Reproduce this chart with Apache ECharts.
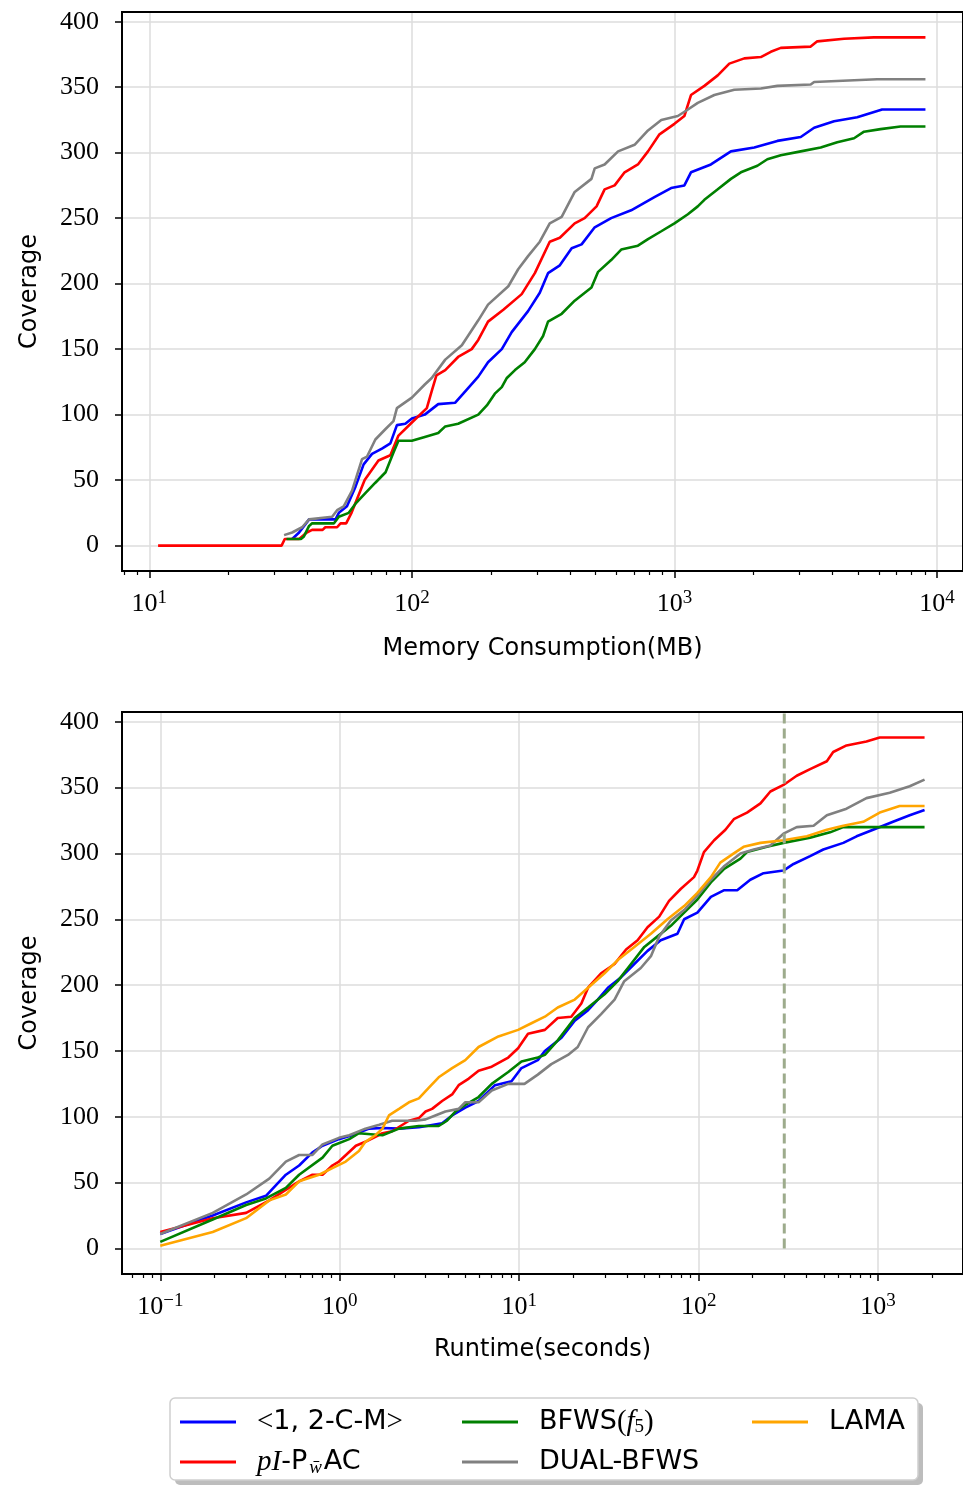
<!DOCTYPE html>
<html>
<head>
<meta charset="utf-8">
<script src="https://cdn.jsdelivr.net/npm/echarts@6/dist/echarts.min.js"></script>
<style>
  html, body { margin: 0; padding: 0; background: #fff; }
  #chart { width: 963px; height: 1488px; }
</style>
</head>
<body>
<div id="chart"></div>
<script>
// memory consumption (MB) vs coverage
const memBlue = [[35, 5], [37.2, 10], [40.6, 20], [51.2, 20], [52.7, 25], [56.6, 30], [61, 45], [65.5, 62], [70.5, 70], [76.9, 74], [82.8, 78], [87.7, 92], [94.4, 93], [100, 97], [112, 100], [126, 108], [146, 109], [160, 118], [179, 129], [195, 140], [220, 150], [240, 163], [277, 179], [307, 193], [330, 208], [366, 214], [406, 227], [443, 230], [497, 243], [574, 250], [684, 256], [839, 266], [971, 273], [1091, 275], [1156, 285], [1377, 291], [1641, 301], [2014, 304], [2466, 309], [3027, 312], [3404, 319], [4055, 324], [4966, 327], [6180, 333], [9036, 333]]
const memRed = [[10.8, 0], [31.9, 0], [32.8, 5], [37.2, 5], [39.8, 10], [41.7, 12], [45.7, 12], [46.8, 14], [51.9, 14], [53.5, 17], [56.2, 17], [58.9, 25], [66.1, 50], [74.6, 65], [82.8, 69], [88.9, 84], [100, 94], [114, 105], [119, 118], [124, 130], [134, 134], [150, 144], [169, 150], [179, 157], [195, 171], [223, 180], [262, 192], [294, 208], [335, 232], [366, 235], [417, 246], [455, 250], [505, 259], [542, 272], [592, 275], [646, 285], [726, 291], [793, 301], [877, 314], [1000, 322], [1091, 328], [1156, 344], [1300, 351], [1462, 359], [1618, 368], [1845, 372], [2133, 373], [2328, 377], [2541, 380], [3304, 381], [3499, 385], [4426, 387], [5741, 388], [9036, 388]]
const memGreen = [[33.3, 5], [37.8, 5], [38.8, 7], [40.6, 15], [41.7, 17], [50.5, 17], [52.7, 22], [57.5, 25], [61, 32], [66.5, 40], [72.6, 48], [79.4, 56], [85.1, 71], [88.9, 80], [100, 80], [112, 83], [126, 86], [134, 91], [150, 93], [179, 100], [193, 107], [207, 116], [220, 121], [230, 128], [247, 134], [269, 140], [294, 150], [316, 160], [330, 171], [372, 177], [417, 187], [483, 197], [512, 209], [574, 218], [627, 226], [726, 229], [793, 234], [891, 240], [1000, 246], [1125, 253], [1227, 259], [1300, 264], [1462, 272], [1641, 280], [1791, 285], [2070, 290], [2259, 295], [2541, 298], [3027, 301], [3606, 304], [4169, 308], [4831, 311], [5272, 316], [6095, 318], [7261, 320], [9036, 320]]
const memGray = [[32.6, 8], [35, 10], [38.2, 14], [40.6, 20], [49.7, 22], [51.9, 27], [55, 30], [59.2, 42], [64.6, 66], [67.5, 68], [72.6, 81], [79.4, 89], [85.1, 95], [87.7, 105], [100, 113], [112, 123], [119, 128], [134, 142], [155, 153], [179, 172], [195, 184], [233, 198], [254, 211], [277, 221], [307, 232], [335, 246], [372, 251], [417, 270], [483, 280], [497, 288], [542, 291], [610, 301], [705, 306], [793, 317], [891, 325], [1030, 328], [1107, 332], [1227, 338], [1419, 344], [1690, 348], [2133, 349], [2466, 351], [3304, 352], [3404, 354], [5916, 356], [9036, 356]]

// runtime (seconds) vs coverage
const timeBlue = [[0.1, 11], [0.196, 25], [0.301, 35], [0.388, 40], [0.501, 56], [0.594, 63], [0.705, 73], [0.802, 78], [0.99, 83], [1.17, 86], [1.46, 91], [1.73, 91.5], [2.14, 91], [2.76, 92], [3.72, 95], [4.23, 101], [5.01, 107], [5.94, 112], [7.33, 124], [9.06, 127], [10.3, 137], [12.7, 143], [13.9, 150], [17.2, 160], [20.4, 173], [24.2, 181], [27.4, 189], [31.2, 198], [37, 206], [43.8, 216], [51.9, 226], [61.5, 234], [76.2, 239], [83, 250], [98.4, 255], [117, 267], [138, 272], [164, 272], [194, 280], [230, 285], [297, 287], [338, 292], [418, 298], [495, 303], [640, 308], [759, 313], [938, 318], [1211, 324], [1500, 329], [1815, 333]]
const timeRed = [[0.1, 12.5], [0.196, 23], [0.301, 27], [0.405, 36.5], [0.594, 51], [0.705, 56], [0.802, 56], [0.91, 63], [0.99, 66], [1.23, 78], [1.39, 81], [1.73, 87.5], [1.96, 89], [2.43, 97], [2.76, 99], [3.01, 104], [3.27, 106], [3.72, 112], [4.23, 117], [4.6, 124], [5.24, 129], [5.94, 135], [7.03, 138], [8.69, 145], [9.86, 152], [11.2, 163], [13.9, 166], [16.4, 175], [19.5, 176], [22.2, 186], [24.2, 198], [28.6, 209], [34, 216], [39.4, 227], [45.7, 234], [51.9, 244], [60.3, 252], [68.4, 264], [79.4, 273], [94.2, 282], [98.4, 287], [107, 301], [122, 310], [141, 318], [157, 326], [186, 331], [221, 338], [251, 347], [297, 352], [352, 359], [418, 364], [518, 370], [562, 377], [667, 382], [861, 385], [1021, 388], [1815, 388]]
const timeGreen = [[0.1, 5], [0.196, 22], [0.301, 33], [0.388, 38], [0.501, 46], [0.594, 56], [0.802, 69], [0.91, 78], [1.13, 83], [1.28, 87.5], [1.73, 86], [2.14, 91], [2.76, 93], [3.56, 93], [3.96, 97], [4.41, 104], [5.01, 109], [5.94, 115], [7.03, 125], [8.69, 134], [10.3, 142], [12.7, 145], [13.9, 147], [16.4, 158], [20.4, 175], [24.2, 183], [29.9, 193], [35.4, 203], [42, 216], [49.8, 229], [59, 237], [70, 245], [83, 255], [98.4, 265], [117, 278], [138, 288], [171, 296], [186, 301], [240, 305], [297, 308], [418, 312], [540, 316], [640, 320], [1815, 320]]
const timeGray = [[0.1, 11], [0.196, 27], [0.301, 41], [0.405, 53], [0.501, 66], [0.594, 71], [0.705, 71], [0.802, 79], [0.99, 84], [1.13, 86], [1.39, 91], [1.66, 94], [1.96, 97], [2.64, 97], [3.01, 98], [3.41, 101], [3.88, 104], [4.6, 106], [5.01, 111], [5.94, 111], [7.03, 120], [8.69, 125], [10.7, 125], [12.7, 132], [15.1, 140], [18.7, 147], [21.2, 153], [24.2, 168], [28.6, 178], [34, 189], [38.5, 203], [47.6, 213], [54.2, 222], [60.3, 237], [70, 249], [83, 257], [98.4, 268], [117, 280], [138, 290], [171, 300], [203, 303], [251, 306], [297, 315], [352, 320], [437, 321], [518, 329], [667, 334], [861, 342], [1161, 346], [1500, 351], [1815, 356]]
const timeOrange = [[0.1, 2], [0.196, 12.5], [0.301, 23], [0.405, 36.5], [0.501, 41], [0.594, 51], [0.767, 56], [0.91, 61], [1.08, 66], [1.28, 74], [1.39, 81], [1.58, 86], [1.73, 91], [1.88, 101], [2.14, 106], [2.43, 111], [2.76, 114], [3.13, 122], [3.56, 130], [4.23, 137], [5.01, 143], [5.94, 153], [7.66, 161], [9.86, 166], [11.7, 171], [13.9, 176], [16.4, 183], [20.4, 189], [24.2, 198], [29.9, 209], [35.4, 219], [43.8, 229], [54.2, 239], [67, 250], [83, 260], [98.4, 270], [117, 282], [132, 293], [157, 300], [178, 305], [221, 308], [297, 310], [401, 313], [518, 318], [640, 321], [826, 324], [1021, 331], [1318, 336], [1815, 336]]

// time limit marker
const timeLimit = 300

// axis ticks
const yTicks = [0, 50, 100, 150, 200, 250, 300, 350, 400]
const memMajorTicks = [10, 100, 1000, 10000]
const memMinorTicks = [8, 9, 20, 30, 40, 50, 60, 70, 80, 90, 200, 300, 400, 500, 600, 700, 800, 900,
  2000, 3000, 4000, 5000, 6000, 7000, 8000, 9000]
const timeMajorTicks = [0.1, 1, 10, 100, 1000]
const timeMinorTicks = [0.07, 0.08, 0.09, 0.2, 0.3, 0.4, 0.5, 0.6, 0.7, 0.8, 0.9, 2, 3, 4, 5, 6, 7, 8, 9,
  20, 30, 40, 50, 60, 70, 80, 90, 200, 300, 400, 500, 600, 700, 800, 900, 2000]

const colors = {
  '<1, 2-C-M>': '#0000ff',
  'pI-PwAC': '#ff0000',
  'BFWS(f5)': '#008000',
  'DUAL-BFWS': '#808080',
  'LAMA': '#ffa500'
}

const SERIF = '"Liberation Serif", "DejaVu Serif", serif'
const SANS = '"DejaVu Sans", sans-serif'

const chart = echarts.init(document.getElementById('chart'))

function powLabel(v) {
  const e = Math.round(Math.log10(v))
  const s = e < 0 ? '\u2212' + (-e) : String(e)
  return '{b|10}{s|' + s + '}'
}

const powRich = {
  b: { fontFamily: SERIF, fontSize: 26, lineHeight: 30, color: '#000' },
  s: { fontFamily: SERIF, fontSize: 19, lineHeight: 19, verticalAlign: 'top', color: '#000' }
}

function mainX(gridIndex, min, max, major, name, gap) {
  return {
    type: 'log', logBase: 10, gridIndex, min, max, position: 'bottom',
    name, nameLocation: 'middle', nameGap: gap,
    nameTextStyle: { fontFamily: SANS, fontSize: 24, color: '#000' },
    axisLine: { show: true, onZero: false, lineStyle: { color: '#000', width: 2 } },
    axisTick: { show: true, customValues: major, length: 7, lineStyle: { color: '#000', width: 1.5 } },
    axisLabel: { customValues: major, formatter: powLabel, rich: powRich, margin: 18 },
    splitLine: { show: true, lineStyle: { color: '#dcdcdc', width: 1.5 } }
  }
}

function minorX(gridIndex, min, max, minor) {
  return {
    type: 'log', logBase: 10, gridIndex, min, max, position: 'bottom',
    axisLine: { show: false, onZero: false },
    axisTick: { show: true, customValues: minor, length: 4, lineStyle: { color: '#000', width: 1.2 } },
    axisLabel: { show: false },
    splitLine: { show: false }
  }
}

function coverageY(gridIndex) {
  return {
    type: 'value', gridIndex, min: -19.4, max: 407.4, splitNumber: 8, position: 'left',
    name: 'Coverage', nameLocation: 'middle', nameGap: 80,
    nameTextStyle: { fontFamily: SANS, fontSize: 24, color: '#000' },
    axisLine: { show: true, onZero: false, lineStyle: { color: '#000', width: 2 } },
    axisTick: { show: true, customValues: yTicks, length: 7, lineStyle: { color: '#000', width: 1.5 } },
    axisLabel: { customValues: yTicks, fontFamily: SERIF, fontSize: 26, color: '#000', margin: 23 },
    splitLine: { show: true, lineStyle: { color: '#dcdcdc', width: 1.5 } }
  }
}

function lineSeries(name, data, xAxisIndex, yAxisIndex) {
  return {
    type: 'line', name, data, xAxisIndex, yAxisIndex,
    showSymbol: false, symbol: 'none',
    lineStyle: { color: colors[name], width: 2.6 },
    itemStyle: { color: colors[name] }
  }
}

const legendRich = {
  t: { fontFamily: SANS, fontSize: 27, lineHeight: 30, color: '#000' },
  m: { fontFamily: SERIF, fontSize: 29, lineHeight: 30, color: '#000' },
  i: { fontFamily: SERIF, fontStyle: 'italic', fontSize: 29, lineHeight: 30, color: '#000' },
  sub: { fontFamily: SERIF, fontStyle: 'italic', fontSize: 19, lineHeight: 30, verticalAlign: 'bottom', color: '#000', padding: [0, 2, 0, 2] },
  subn: { fontFamily: SERIF, fontSize: 19, lineHeight: 30, verticalAlign: 'bottom', color: '#000' }
}

function legendText(name) {
  if (name === '<1, 2-C-M>') return '{m|<}{t|1, 2-C-M}{m|>}'
  if (name === 'pI-PwAC') return '{i|pI}{t|-P}{sub|w\u0304}{t|AC}'
  if (name === 'BFWS(f5)') return '{t|BFWS}{m|(}{i|f}{subn|5}{m|)}'
  return '{t|' + name + '}'
}

function legendCol(left, data) {
  return {
    data, left, top: 1402, orient: 'vertical', icon: 'rect',
    itemWidth: 56, itemHeight: 3, itemGap: 10, selectedMode: false,
    formatter: legendText,
    textStyle: { fontFamily: SANS, fontSize: 27, lineHeight: 30, color: '#000', padding: [0, 0, 0, 16], rich: legendRich }
  }
}

const memMin = 7.87, memMax = 12560
const timeMin = 0.0612, timeMax = 2972

chart.setOption({
  animation: false,
  backgroundColor: '#fff',
  grid: [
    { left: 122, top: 12, right: -2, height: 559, show: true, borderColor: '#000', borderWidth: 2, backgroundColor: 'transparent', z: 5 },
    { left: 122, top: 712, right: -2, height: 562, show: true, borderColor: '#000', borderWidth: 2, backgroundColor: 'transparent', z: 5 }
  ],
  xAxis: [
    mainX(0, memMin, memMax, memMajorTicks, 'Memory Consumption(MB)', 66),
    minorX(0, memMin, memMax, memMinorTicks),
    mainX(1, timeMin, timeMax, timeMajorTicks, 'Runtime(seconds)', 64),
    minorX(1, timeMin, timeMax, timeMinorTicks)
  ],
  yAxis: [coverageY(0), coverageY(1)],
  legend: [
    legendCol(175, ['<1, 2-C-M>', 'pI-PwAC']),
    legendCol(457, ['BFWS(f5)', 'DUAL-BFWS']),
    legendCol(747, ['LAMA'])
  ],
  graphic: [
    { type: 'rect', z: 0, shape: { x: 175, y: 1403, width: 748, height: 82, r: 5 }, style: { fill: '#bdbdbd' } },
    { type: 'rect', z: 1, shape: { x: 170, y: 1398, width: 748, height: 82, r: 5 }, style: { fill: '#fff', stroke: '#cfcfcf', lineWidth: 1.5 } }
  ],
  series: [
    lineSeries('<1, 2-C-M>', memBlue, 0, 0),
    lineSeries('pI-PwAC', memRed, 0, 0),
    lineSeries('BFWS(f5)', memGreen, 0, 0),
    lineSeries('DUAL-BFWS', memGray, 0, 0),
    lineSeries('<1, 2-C-M>', timeBlue, 2, 1),
    lineSeries('pI-PwAC', timeRed, 2, 1),
    lineSeries('BFWS(f5)', timeGreen, 2, 1),
    lineSeries('DUAL-BFWS', timeGray, 2, 1),
    lineSeries('LAMA', timeOrange, 2, 1),
    {
      type: 'line', name: 'limit', xAxisIndex: 2, yAxisIndex: 1,
      data: [[timeLimit, 0], [timeLimit, 407.4]],
      showSymbol: false, symbol: 'none', z: 3,
      lineStyle: { color: '#9dab8c', width: 3, type: [10, 5] }
    }
  ]
})
</script>
</body>
</html>
